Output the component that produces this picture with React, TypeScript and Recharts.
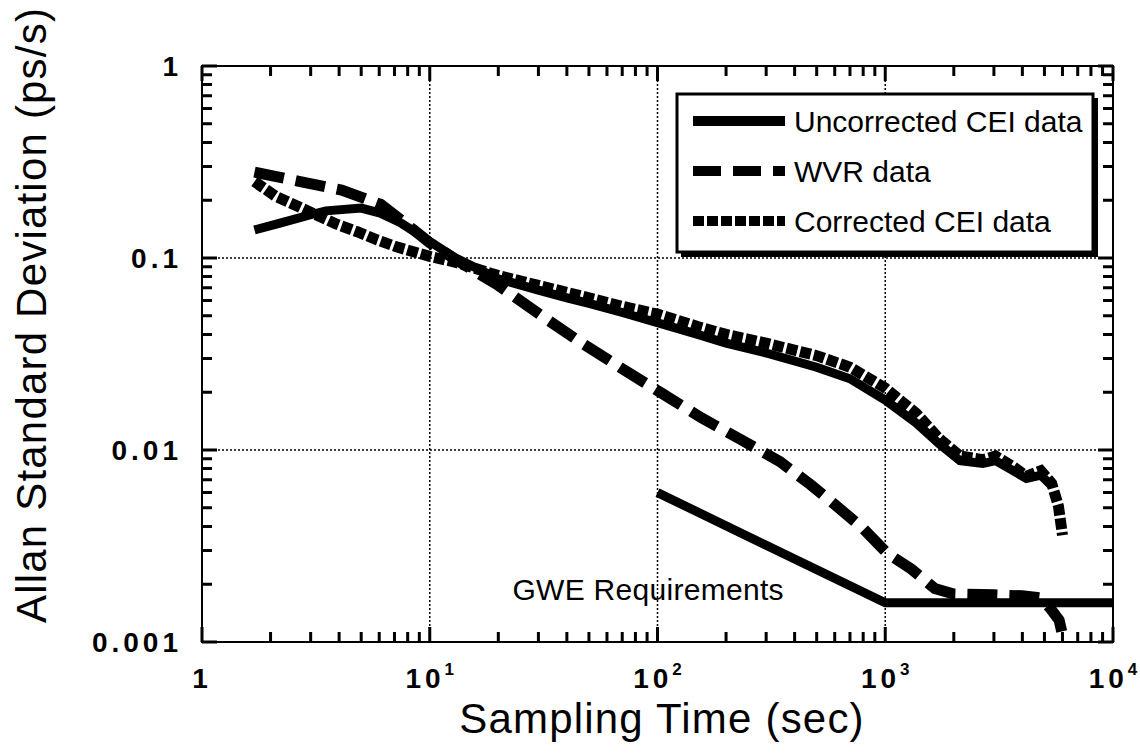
import React from 'react';
import { LineChart, Line, XAxis, YAxis, ReferenceLine, ReferenceDot, ReferenceArea, Legend } from 'recharts';

// sampling time (s) and Allan deviation (ps/s)
const uncorrectedTau = [1.7, 2.2, 3, 3.5, 5, 6, 7.4, 8.5, 10, 13, 20, 30, 40, 50, 70, 100, 150, 200, 300, 500, 700, 1000, 1370, 1720, 2130, 2680, 3050, 3640, 4170, 4820, 5380];
const uncorrectedSigma = [0.14, 0.152, 0.168, 0.176, 0.182, 0.172, 0.153, 0.138, 0.122, 0.1, 0.078, 0.068, 0.062, 0.058, 0.052, 0.046, 0.04, 0.036, 0.032, 0.027, 0.0235, 0.0182, 0.0138, 0.0108, 0.0088, 0.0085, 0.0088, 0.0078, 0.0071, 0.0074, 0.0065];

const wvrTau = [1.7, 2.7, 4.1, 6.1, 8.5, 10, 13, 20, 31, 46, 69, 104, 156, 233, 345, 470, 600, 800, 1020, 1300, 1650, 2000, 3000, 4000, 4800, 5300, 5800, 6100];
const wvrSigma = [0.28, 0.25, 0.226, 0.19, 0.14, 0.12, 0.098, 0.072, 0.05, 0.0364, 0.0268, 0.0198, 0.0147, 0.0113, 0.0087, 0.0066, 0.0052, 0.0039, 0.0029, 0.0024, 0.0019, 0.00178, 0.00176, 0.00174, 0.0017, 0.0015, 0.0013, 0.001];

const correctedTau = [1.7, 2.1, 2.6, 3.1, 3.9, 4.8, 5.9, 7.2, 8.9, 10, 13, 20, 30, 50, 70, 100, 150, 200, 300, 500, 700, 1000, 1370, 1720, 2130, 2680, 3050, 3640, 4170, 4820, 5380, 5760, 6000];
const correctedSigma = [0.25, 0.21, 0.187, 0.17, 0.15, 0.137, 0.124, 0.114, 0.106, 0.102, 0.095, 0.081, 0.072, 0.062, 0.056, 0.051, 0.044, 0.04, 0.036, 0.031, 0.027, 0.021, 0.0155, 0.0115, 0.0093, 0.0089, 0.0093, 0.0082, 0.0073, 0.0078, 0.0067, 0.0051, 0.0036];

const gweTau = [100, 1000, 10000];
const gweSigma = [0.006, 0.0016, 0.0016];

const xDecades = [1, 10, 100, 1000, 10000];
const xTickLabels = ['1', '10^1', '10^2', '10^3', '10^4'];
const yDecades = [0.001, 0.01, 0.1, 1];
const yTickLabels = ['0.001', '0.01', '0.1', '1'];

const legendItems = [
  { name: 'Uncorrected CEI data', dash: undefined },
  { name: 'WVR data', dash: '28 12' },
  { name: 'Corrected CEI data', dash: '11 3' },
];

const toPoints = (tau: number[], sigma: number[]) => tau.map((x, i) => ({ x, y: sigma[i] }));

const minorTicks = (decades: number[]) => {
  const out: number[] = [];
  decades.slice(0, -1).forEach((d) => {
    for (let k = 1; k < 10; k++) out.push(+(d * k).toPrecision(6));
  });
  out.push(decades[decades.length - 1]);
  return out;
};

const xTicks = minorTicks(xDecades);
const yTicks = minorTicks(yDecades);

const X_MIN = 1;
const X_MAX = 10000;
const Y_MIN = 0.001;
const Y_MAX = 1;

// plot frame in pixels
const LEFT = 202;
const RIGHT = 1113;
const TOP = 66;
const BOTTOM = 642;

const FONT = "'Liberation Sans', Arial, Helvetica, sans-serif";
const isDecade = (v: number) => Math.abs(Math.log10(v) - Math.round(Math.log10(v))) < 1e-6;
const decadeIndex = (list: number[], v: number) =>
  list.findIndex((d) => Math.abs(Math.log10(d) - Math.log10(v)) < 1e-6);

// bottom axis: inward ticks on bottom and top edge + decade labels
const BottomTick = (props: any) => {
  const { x, payload } = props;
  const major = isDecade(payload.value);
  const len = major ? 15 : 10;
  const idx = decadeIndex(xDecades, payload.value);
  const [base, exp] = idx >= 0 ? xTickLabels[idx].split('^') : ['', ''];
  return (
    <g>
      <path d={`M${x},${BOTTOM}V${BOTTOM - len}M${x},${TOP}V${TOP + len}`} stroke="#000" strokeWidth={3} fill="none" />
      {idx >= 0 && (
        <text x={x} y={688} textAnchor="middle" fontFamily={FONT} fontWeight="bold" fontSize={28} letterSpacing={4} fill="#000">
          {base}
          {exp && (
            <tspan dy={-13} fontSize={17} letterSpacing={0}>
              {exp}
            </tspan>
          )}
        </text>
      )}
    </g>
  );
};

// left axis: inward ticks on left and right edge + decade labels
const LeftTick = (props: any) => {
  const { y, payload } = props;
  const major = isDecade(payload.value);
  const len = major ? 15 : 10;
  const idx = decadeIndex(yDecades, payload.value);
  return (
    <g>
      <path d={`M${LEFT},${y}H${LEFT + len}M${RIGHT},${y}H${RIGHT - len}`} stroke="#000" strokeWidth={3} fill="none" />
      {idx >= 0 && (
        <text x={182} y={y + 10} textAnchor="end" fontFamily={FONT} fontWeight="bold" fontSize={28} letterSpacing={4} fill="#000">
          {yTickLabels[idx]}
        </text>
      )}
    </g>
  );
};

const XTitle = () => (
  <text x={662} y={733} textAnchor="middle" fontFamily={FONT} fontSize={42} letterSpacing={1.2} fill="#000">
    Sampling Time (sec)
  </text>
);

const YTitle = () => (
  <text x={46} y={315} transform="rotate(-90 46 315)" textAnchor="middle" fontFamily={FONT} fontSize={42} letterSpacing={1.2} fill="#000">
    Allan Standard Deviation (ps/s)
  </text>
);

const LegendBox = () => (
  <svg width={430} height={172} style={{ display: 'block' }}>
    <rect x={7} y={7} width={417} height={159} fill="#000" />
    <rect x={3} y={3} width={416} height={158} fill="#fff" stroke="#000" strokeWidth={3} />
    {legendItems.map((item, i) => {
      const cy = 30 + i * 50;
      return (
        <g key={item.name}>
          <line x1={19} x2={111} y1={cy} y2={cy} stroke="#000" strokeWidth={10} strokeDasharray={item.dash} />
          <text x={120} y={cy + 11} fontFamily={FONT} fontSize={30} fill="#000">
            {item.name}
          </text>
        </g>
      );
    })}
  </svg>
);

const GweLabel = (props: any) => (
  <text x={props.cx} y={props.cy} textAnchor="middle" fontFamily={FONT} fontSize={30} letterSpacing={0.3} fill="#000">
    GWE Requirements
  </text>
);

const gridStyle = { stroke: '#000', strokeWidth: 1.5, strokeDasharray: '2 2' };

export default function App() {
  return (
    <div style={{ position: 'absolute', left: 0, top: 0, background: '#fff' }}>
      <LineChart width={1140} height={755} margin={{ top: 66, right: 27, bottom: 0, left: 0 }}>
        <ReferenceArea
          xAxisId="bottom"
          yAxisId="left"
          x1={X_MIN}
          x2={X_MAX}
          y1={Y_MIN}
          y2={Y_MAX}
          fill="none"
          stroke="#000"
          strokeWidth={2}
        />
        {[10, 100, 1000].map((v) => (
          <ReferenceLine key={'x' + v} x={v} xAxisId="bottom" yAxisId="left" {...gridStyle} />
        ))}
        {[0.01, 0.1].map((v) => (
          <ReferenceLine key={'y' + v} y={v} xAxisId="bottom" yAxisId="left" {...gridStyle} />
        ))}
        <Line
          xAxisId="bottom"
          yAxisId="left"
          data={toPoints(gweTau, gweSigma)}
          dataKey="y"
          type="linear"
          stroke="#000"
          strokeWidth={9}
          dot={false}
          activeDot={false}
          isAnimationActive={false}
          legendType="none"
        />
        <Line
          xAxisId="bottom"
          yAxisId="left"
          name="WVR data"
          data={toPoints(wvrTau, wvrSigma)}
          dataKey="y"
          type="linear"
          stroke="#000"
          strokeWidth={11}
          strokeDasharray="30 12"
          dot={false}
          activeDot={false}
          isAnimationActive={false}
        />
        <Line
          xAxisId="bottom"
          yAxisId="left"
          name="Uncorrected CEI data"
          data={toPoints(uncorrectedTau, uncorrectedSigma)}
          dataKey="y"
          type="linear"
          stroke="#000"
          strokeWidth={9}
          dot={false}
          activeDot={false}
          isAnimationActive={false}
        />
        <Line
          xAxisId="bottom"
          yAxisId="left"
          name="Corrected CEI data"
          data={toPoints(correctedTau, correctedSigma)}
          dataKey="y"
          type="linear"
          stroke="#000"
          strokeWidth={11}
          strokeDasharray="11 3"
          dot={false}
          activeDot={false}
          isAnimationActive={false}
        />
        <ReferenceDot xAxisId="bottom" yAxisId="left" x={91} y={0.00166} r={0} shape={<GweLabel />} />
        <XAxis
          xAxisId="bottom"
          type="number"
          dataKey="x"
          scale="log"
          domain={[X_MIN, X_MAX]}
          allowDataOverflow
          ticks={xTicks}
          interval={0}
          height={113}
          tickSize={0}
          tickMargin={0}
          tickLine={false}
          tick={<BottomTick />}
          axisLine={false}
          label={<XTitle />}
        />
        <YAxis
          yAxisId="left"
          type="number"
          dataKey="y"
          scale="log"
          domain={[Y_MIN, Y_MAX]}
          allowDataOverflow
          ticks={yTicks}
          interval={0}
          width={202}
          tickSize={0}
          tickMargin={0}
          tickLine={false}
          tick={<LeftTick />}
          axisLine={false}
          label={<YTitle />}
        />
        <Legend
          layout="vertical"
          align="center"
          verticalAlign="middle"
          content={<LegendBox />}
          wrapperStyle={{ position: 'absolute', left: 674, top: 91, width: 430, height: 172 }}
        />
      </LineChart>
    </div>
  );
}
